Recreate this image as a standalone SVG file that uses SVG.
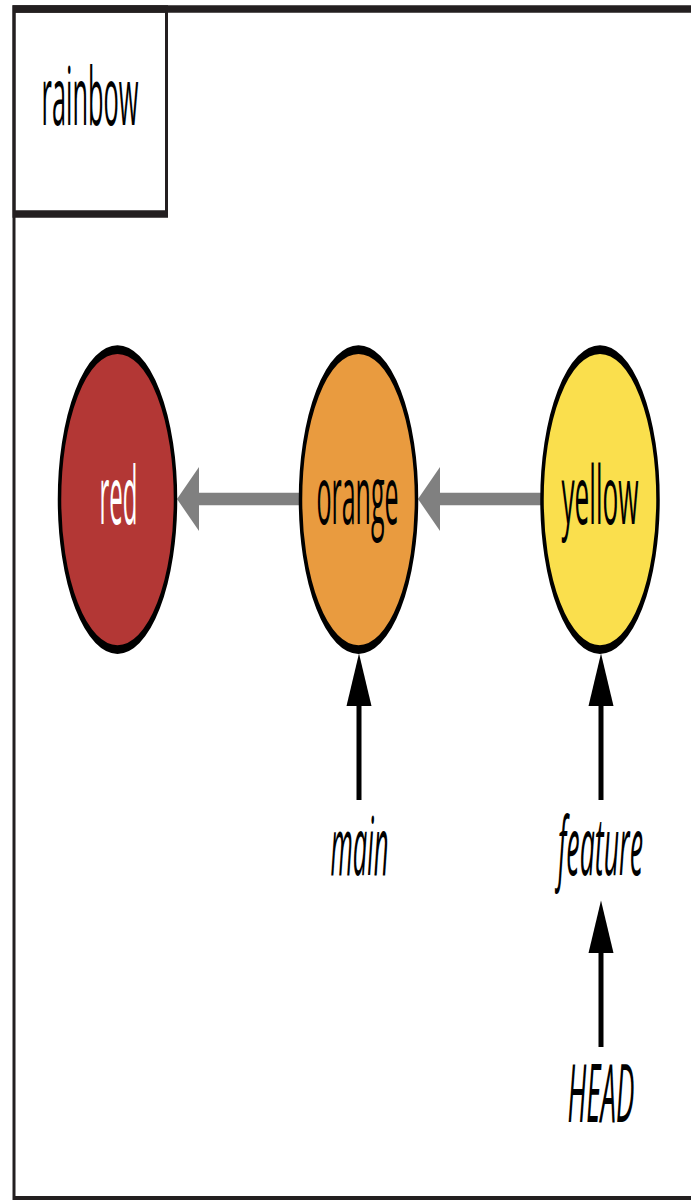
<svg xmlns="http://www.w3.org/2000/svg" width="691" height="1200" viewBox="0 0 691 1200">
  <defs>
    <marker id="headBlack" markerUnits="userSpaceOnUse" markerWidth="22" markerHeight="26" refX="0" refY="12.5" orient="auto" overflow="visible">
      <path d="M0,0 L21,12.5 L0,25 Z" fill="#000"/>
    </marker>
    <marker id="headGray" markerUnits="userSpaceOnUse" markerWidth="23" markerHeight="26" refX="0" refY="12.8" orient="auto" overflow="visible">
      <path d="M0,0 L22,12.8 L0,25.6 Z" fill="#808080"/>
    </marker>
  </defs>
  <style>
    .frame { fill: #fff; stroke: #231f20; stroke-width: 3; }
    .box { fill: none; stroke: #231f20; stroke-width: 3; }
    .node { stroke: #000; stroke-width: 3.5; }
    .lbl { font-family: "Open Sans", "Noto Sans", "DejaVu Sans", sans-serif; font-size: 32px; text-anchor: middle; }
    .ital { font-style: italic; }
    .ref { stroke: #000; stroke-width: 5; fill: none; marker-end: url(#headBlack); }
    .parent { stroke: #808080; stroke-width: 5; fill: none; marker-end: url(#headGray); }
  </style>
  <rect x="0" y="0" width="691" height="1200" fill="#fff"/>
  <g transform="scale(1,2.5)">
    <rect class="frame" x="14" y="3.6" width="720" height="476.3"/>
    <g id="rainbow">
      <rect class="box" x="14" y="3.6" width="152.5" height="82"/>
      <text class="lbl" x="90" y="50" textLength="97" lengthAdjust="spacingAndGlyphs" fill="#000">rainbow</text>
    </g>
    <g id="connectors">
      <line class="parent" x1="299" y1="199.6" x2="199" y2="199.6"/>
      <line class="parent" x1="541" y1="199.6" x2="440" y2="199.6"/>
      <line class="ref" x1="359" y1="320" x2="359" y2="282.4"/>
      <line class="ref" x1="601" y1="320" x2="601" y2="282.4"/>
      <line class="ref" x1="601" y1="418.8" x2="601" y2="381.2"/>
    </g>
    <g id="red">
      <ellipse class="node" cx="117.5" cy="199.8" rx="58" ry="60" fill="#b33735"/>
      <text class="lbl" x="118.5" y="209.6" textLength="38" lengthAdjust="spacingAndGlyphs" fill="#fff">red</text>
    </g>
    <g id="orange">
      <ellipse class="node" cx="358.5" cy="199.8" rx="58" ry="60" fill="#e99b3f"/>
      <text class="lbl" x="357.5" y="209.6" textLength="82" lengthAdjust="spacingAndGlyphs" fill="#000">orange</text>
    </g>
    <g id="yellow">
      <ellipse class="node" cx="600" cy="199.8" rx="58" ry="60" fill="#fadf4d"/>
      <text class="lbl" x="600" y="209.6" textLength="77" lengthAdjust="spacingAndGlyphs" fill="#000">yellow</text>
    </g>
    <g id="main">
      <text class="lbl ital" x="359.5" y="350" textLength="58" lengthAdjust="spacingAndGlyphs" fill="#000">main</text>
    </g>
    <g id="feature">
      <text class="lbl ital" x="600.5" y="350" textLength="85" lengthAdjust="spacingAndGlyphs" fill="#000">feature</text>
    </g>
    <g id="HEAD">
      <text class="lbl ital" x="601" y="448.8" textLength="67" lengthAdjust="spacingAndGlyphs" fill="#000">HEAD</text>
    </g>
  </g>
</svg>
